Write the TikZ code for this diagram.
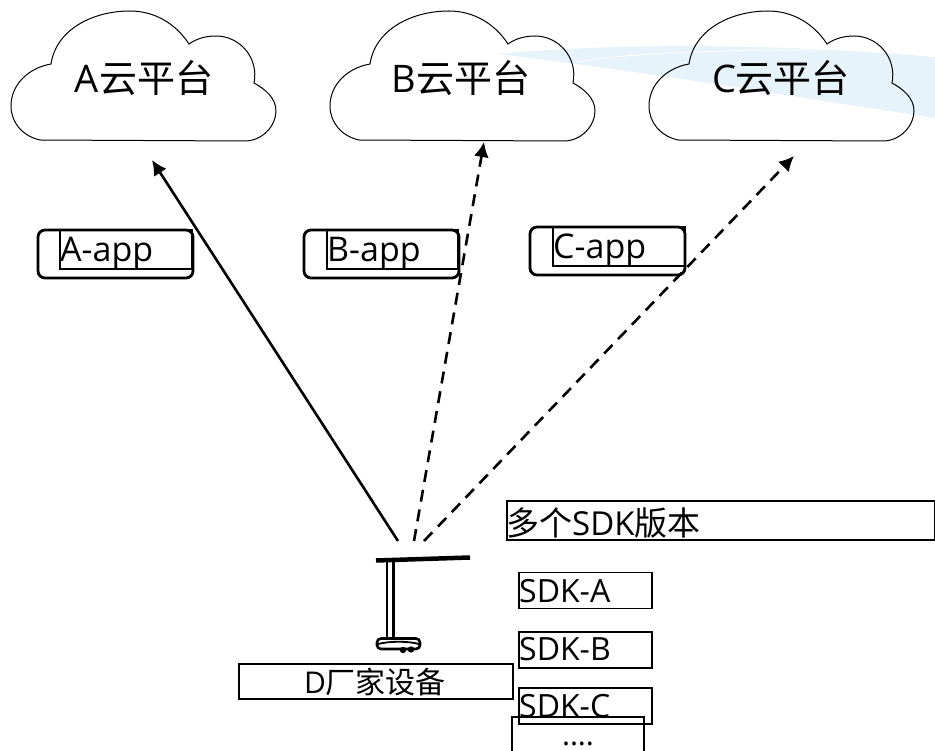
\documentclass[tikz,border=0pt]{standalone}
\usepackage{fontspec}
\setmainfont{Open Sans}
\newfontfamily\cjk{Noto Sans CJK SC}
\usetikzlibrary{arrows.meta}
\definecolor{swoosh}{HTML}{E6F3FB}
\tikzset{
  x=1pt,y=-1pt,
  txt/.style={font=\fontsize{32}{36}\selectfont,inner sep=0pt,text=black},
  apptxt/.style={txt,font=\fontsize{34}{38}\selectfont},
  title/.style={txt,font=\fontsize{38}{42}\selectfont},
  devtxt/.style={txt,font=\fontsize{30}{34}\selectfont},
  headtxt/.style={txt,font=\fontsize{33}{36}\selectfont},
  thinbox/.style={draw=black,line width=1.3pt},
  appbox/.style={draw=black,line width=2.8pt,rounded corners=7pt},
  cloudline/.style={draw=black,line width=1pt},
  link/.style={line width=2.6pt,-{Latex[length=15pt,width=15pt]}},
  dashlink/.style={link,dash pattern=on 12pt off 8pt},
  lampline/.style={line width=2pt,draw=black},
  cloudshape/.pic={
    \draw[cloudline] (40,140) -- (245,141)
      .. controls (262,141) and (276,126) .. (276,111)
      .. controls (276,98) and (265,89) .. (254,83)
      .. controls (259,58) and (240,36) .. (216,36)
      .. controls (205,36) and (196,39) .. (189,44)
      .. controls (176,24) and (155,11) .. (130,11)
      .. controls (92,11) and (56,30) .. (51,64)
      .. controls (28,68) and (11,85) .. (11,106)
      .. controls (11,122) and (22,136) .. (40,140) -- cycle;
  }
}
\begin{document}
\begin{tikzpicture}
\useasboundingbox (0,0) rectangle (935,751);
% pale swoosh behind the third cloud
\fill[swoosh] (497,54) .. controls (600,44) and (760,42) .. (935,57) -- (935,118)
  .. controls (800,98) and (650,72) .. (497,54) -- cycle;
\draw[white,line width=0.8pt] (575,62) .. controls (640,52) and (720,50) .. (825,50);
% clouds
\pic at (0,0) {cloudshape};
\pic at (319,0) {cloudshape};
\pic at (638,0) {cloudshape};
\node[title,anchor=base] (ta) at (144,93) {A{\cjk 云平台}};
\node[title,anchor=base] (tb) at (461,93) {B{\cjk 云平台}};
\node[title,anchor=base] (tc) at (781,93) {C{\cjk 云平台}};
% app boxes
\node[appbox,minimum width=155pt,minimum height=48pt,inner sep=0pt] (aa) at (115.5,254) {};
\node[appbox,minimum width=155pt,minimum height=48pt,inner sep=0pt] (ab) at (381.5,254) {};
\node[appbox,minimum width=155pt,minimum height=48pt,inner sep=0pt] (ac) at (607.5,251) {};
\node[thinbox,minimum width=132pt,minimum height=39pt,inner sep=0pt] (ra) at (126,249.5) {};
\node[thinbox,minimum width=131pt,minimum height=39pt,inner sep=0pt] (rb) at (392.5,249.5) {};
\node[thinbox,minimum width=132pt,minimum height=39pt,inner sep=0pt] (rc) at (619,246.5) {};
\node[apptxt,anchor=base west] (la) at (60,262) {A-app};
\node[apptxt,anchor=base west] (lb) at (327,262) {B-app};
\node[apptxt,anchor=base west] (lc) at (553,259) {C-app};
% arrow ends
\coordinate (s1) at (398,541);
\coordinate (s2) at (414,541);
\coordinate (s3) at (424,541);
\coordinate (e1) at (152,160);
\coordinate (e2) at (484,142);
\coordinate (e3) at (794,156);
\draw[link] (s1) -- (e1);
\draw[dashlink] (s2) -- (e2);
\draw[dashlink] (s3) -- (e3);
% lamp
\draw[line width=4.5pt] (376,560.5) -- (470,557.5);
\draw[lampline,line width=2.8pt] (387,562) -- (387,637) (393.5,562) -- (393.5,637);
\draw[lampline,rounded corners=4pt,line width=2.6pt] (377,638.5) -- (420,638.5) -- (420,649) -- (377,649) -- cycle;
\draw[lampline,line width=1.8pt] (378,644) .. controls (390,641) and (408,641) .. (419,644);
\fill (403,650) circle (3.2pt) (411,649.5) circle (3.2pt);
% text boxes
\node[thinbox,minimum width=428pt,minimum height=39pt,inner sep=0pt] (bh) at (721,520.5) {};
\node[headtxt,anchor=base west] (th) at (506,535) {{\cjk 多个}SDK{\cjk 版本}};
\node[thinbox,minimum width=133pt,minimum height=36pt,inner sep=0pt] (sa) at (585.5,590.5) {};
\node[txt,anchor=base west] (tsa) at (519,602) {SDK-A};
\node[thinbox,minimum width=133pt,minimum height=36pt,inner sep=0pt] (sb) at (585.5,650) {};
\node[txt,anchor=base west] (tsb) at (519,660) {SDK-B};
\node[thinbox,minimum width=133pt,minimum height=36pt,inner sep=0pt] (sc) at (585.5,706) {};
\node[txt,anchor=base west] (tsc) at (519,717) {SDK-C};
\node[thinbox,minimum width=274pt,minimum height=35pt,inner sep=0pt] (d) at (376,681.5) {};
\node[devtxt,anchor=base] (td) at (375,693.5) {D{\cjk 厂家设备}};
\draw[line width=1.3pt] (512,751) -- (512,717) -- (644,717) -- (644,751);
\node[devtxt,anchor=base] (dots) at (578,745) {\smash{....}};
\end{tikzpicture}
\end{document}
